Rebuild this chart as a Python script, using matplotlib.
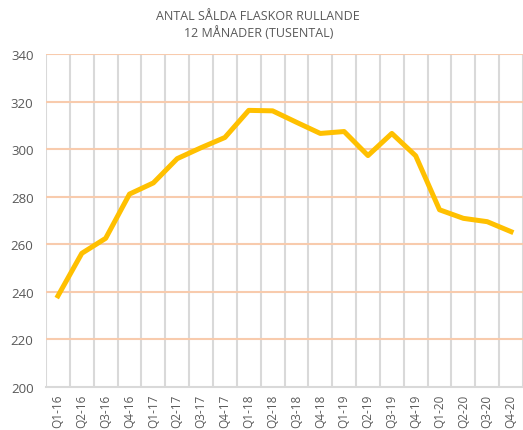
import matplotlib.pyplot as plt
import numpy as np

plt.rcParams['font.family'] = ['Open Sans', 'DejaVu Sans']

quarters = ['Q1-16', 'Q2-16', 'Q3-16', 'Q4-16', 'Q1-17', 'Q2-17', 'Q3-17', 'Q4-17',
            'Q1-18', 'Q2-18', 'Q3-18', 'Q4-18', 'Q1-19', 'Q2-19', 'Q3-19', 'Q4-19',
            'Q1-20', 'Q2-20', 'Q3-20', 'Q4-20']
bottles = [238.3, 256.2, 262.5, 281.1, 285.8, 296.0, 300.6, 304.9,
           316.3, 316.1, 311.3, 306.6, 307.4, 297.3, 306.6, 297.2,
           274.5, 270.9, 269.5, 265.3]
yticks = [200, 220, 240, 260, 280, 300, 320, 340]

text_color = '#595959'

fig = plt.figure(figsize=(5.23, 4.31), dpi=100)
ax = fig.add_axes([0.088, 0.0998, 0.912, 0.7726])

x = np.arange(len(quarters))
ax.plot(x, bottles, color='#FFC000', lw=3.6, solid_joinstyle='round', zorder=3)

ax.set_xlim(-0.5, len(quarters) - 0.5)
ax.set_ylim(200, 340)
ax.set_yticks(yticks)
ax.set_xticks(x)
ax.set_xticklabels(quarters, rotation=90, fontsize=8.5, color=text_color)
ax.tick_params(axis='y', labelsize=9.5, colors=text_color, length=0, pad=9)
ax.tick_params(axis='x', length=0, pad=5)

# horizontal gridlines (orange) and vertical category separators (gray)
for yv in yticks[1:]:
    ax.axhline(yv, color='#F8CBAD', lw=1.5, zorder=1)
for xv in np.arange(-0.5, len(quarters), 1.0):
    ax.axvline(xv, color='#D9D9D9', lw=1.5, zorder=0)

for side in ['top', 'right', 'left']:
    ax.spines[side].set_visible(False)
ax.spines['bottom'].set_color('#D9D9D9')
ax.spines['bottom'].set_linewidth(1.5)

fig.text(0.494, 0.942, 'ANTAL SÅLDA FLASKOR RULLANDE\n12 MÅNADER (TUSENTAL)',
         ha='center', va='center', fontsize=9, color=text_color, linespacing=1.35)

fig.savefig('out.png', dpi=100)
